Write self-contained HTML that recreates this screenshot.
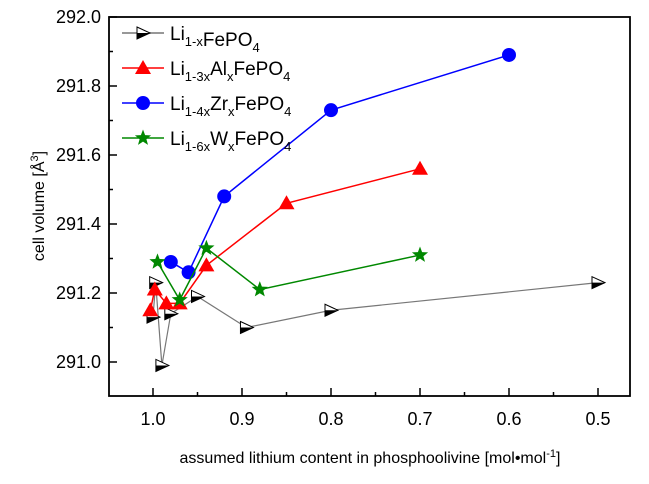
<!DOCTYPE html>
<html><head><meta charset="utf-8"><style>
body{margin:0;background:#fff}
svg{font-family:"Liberation Sans",sans-serif}
</style></head><body>
<svg id="c" width="649" height="479"></svg>
<script>
const xTicks=[1.0,0.9,0.8,0.7,0.6,0.5];
const yTicks=[291.0,291.2,291.4,291.6,291.8,292.0];
const feX=[1.0,0.997,0.99,0.98,0.95,0.895,0.80,0.5];
const feY=[291.13,291.23,290.99,291.14,291.19,291.10,291.15,291.23];
const alX=[1.003,0.998,0.985,0.97,0.94,0.85,0.70];
const alY=[291.15,291.21,291.17,291.17,291.28,291.46,291.56];
const zrX=[0.98,0.96,0.92,0.80,0.60];
const zrY=[291.29,291.26,291.48,291.73,291.89];
const wX=[0.995,0.97,0.94,0.88,0.70];
const wY=[291.29,291.18,291.33,291.21,291.31];
const L=109,R=630,T=17,B=396;
const sx=v=>153+(1.0-v)*890;
const sy=v=>362-(v-291.0)*345;
const svg=document.getElementById('c');
const NS='http://www.w3.org/2000/svg';
function mk(t,a,p){const e=document.createElementNS(NS,t);for(const k in a)e.setAttribute(k,a[k]);(p||svg).appendChild(e);return e;}
const frame=mk('rect',{x:L,y:T,width:R-L,height:B-T,fill:'none',stroke:'#000','stroke-width':1.8});


xTicks.forEach(v=>{const x=sx(v);
 mk('line',{x1:x,y1:B,x2:x,y2:B-8,stroke:'#000','stroke-width':1.5});
 const xm=sx(v-0.05); if(xm<R) mk('line',{x1:xm,y1:B,x2:xm,y2:B-4,stroke:'#000','stroke-width':1.5});
 const t=mk('text',{x:x,y:B+29,'font-size':18,'text-anchor':'middle'});t.textContent=v.toFixed(1);
 
 });
yTicks.forEach(v=>{const y=sy(v);
 mk('line',{x1:L,y1:y,x2:L+8,y2:y,stroke:'#000','stroke-width':1.5});
 const ym=sy(v-0.1); if(ym<B) mk('line',{x1:L,y1:ym,x2:L+4,y2:ym,stroke:'#000','stroke-width':1.5});
 const t=mk('text',{x:L-8,y:y+6,'font-size':18,'text-anchor':'end'});t.textContent=v.toFixed(1);
 
 });
const xt=mk('text',{x:370,y:463,'font-size':16,'text-anchor':'middle'});
xt.innerHTML='assumed lithium content in phosphoolivine [mol•mol<tspan dy="-6" font-size="11">-1</tspan><tspan dy="6">]</tspan>';


const yt=mk('text',{x:0,y:0,'font-size':16,'text-anchor':'middle',transform:'translate(44,206) rotate(-90)'});
yt.innerHTML='cell volume [Å<tspan dy="-6" font-size="11">3</tspan><tspan dy="6">]</tspan>';


function marker(kind,x,y,col,g){
 if(kind==='tri-r'){mk('path',{d:`M${x-6},${y-6}L${x+7},${y}L${x-6},${y+6}Z`,fill:'#fff',stroke:'#000','stroke-width':1},g);
  mk('path',{d:`M${x-6},${y}L${x+7},${y}L${x-6},${y+6}Z`,fill:'#000'},g);}
 else if(kind==='tri')mk('path',{d:`M${x},${y-8}L${x+8},${y+6}L${x-8},${y+6}Z`,fill:col},g);
 else if(kind==='circ')mk('circle',{cx:x,cy:y,r:7,fill:col},g);
 else{let p='';for(let i=0;i<10;i++){const r=i%2?3.6:8.5,a=-Math.PI/2+i*Math.PI/5;p+=(i?'L':'M')+(x+r*Math.cos(a)).toFixed(1)+','+(y+r*Math.sin(a)).toFixed(1);}mk('path',{d:p+'Z',fill:col},g);}
}
function series(xs,ys,col,kind,name,w){
 const g=mk('g',{});
 
 
 mk('polyline',{points:xs.map((v,i)=>sx(v)+','+sy(ys[i])).join(' '),fill:'none',stroke:col,'stroke-width':w},g);
 xs.forEach((v,i)=>marker(kind,sx(v),sy(ys[i]),col,g));
}
series(feX,feY,'#777','tri-r','series-lifepo4',1.2);
series(alX,alY,'#f00','tri','series-al',1.5);
series(zrX,zrY,'#00f','circ','series-zr',1.5);
series(wX,wY,'#080','star','series-w',1.5);
const leg=[['#777','tri-r','Li','1-x','',''],['#f00','tri','Li','1-3x','Al','x'],['#00f','circ','Li','1-4x','Zr','x'],['#080','star','Li','1-6x','W','x']];
leg.forEach((l,i)=>{const y=33+i*35;const g=mk('g',{});
 
 
 mk('line',{x1:122,y1:y,x2:164,y2:y,stroke:l[0],'stroke-width':1.5},g);
 marker(l[1],143,y,l[0],g);
 const t=mk('text',{x:170,y:y+7,'font-size':19},g);
 t.innerHTML=`${l[2]}<tspan dy="6" font-size="13">${l[3]}</tspan><tspan dy="-6">${l[4]}</tspan>`+(l[5]?`<tspan dy="6" font-size="13">${l[5]}</tspan><tspan dy="-6">FePO</tspan>`:'<tspan>FePO</tspan>')+'<tspan dy="6" font-size="13">4</tspan>';
});
</script>
</body></html>
